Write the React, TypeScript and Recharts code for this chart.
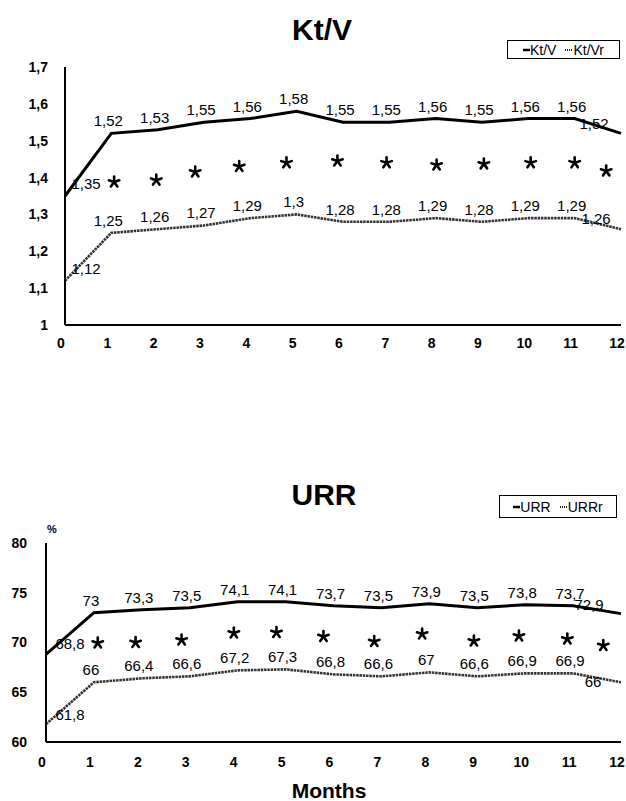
import React from "react";
import {
  ComposedChart,
  Line,
  Scatter,
  XAxis,
  YAxis,
  LabelList,
} from "recharts";

const months = [0, 1, 2, 3, 4, 5, 6, 7, 8, 9, 10, 11, 12];

const ktv = [1.35, 1.52, 1.53, 1.55, 1.56, 1.58, 1.55, 1.55, 1.56, 1.55, 1.56, 1.56, 1.52];
const ktvr = [1.12, 1.25, 1.26, 1.27, 1.29, 1.3, 1.28, 1.28, 1.29, 1.28, 1.29, 1.29, 1.26];
const ktvTicks = [1, 1.1, 1.2, 1.3, 1.4, 1.5, 1.6, 1.7];
const ktvStarMonths = [1.06, 1.97, 2.81, 3.76, 4.78, 5.88, 6.94, 8.02, 9.04, 10.05, 11.0, 11.68];
const ktvStarValues = [1.388, 1.393, 1.415, 1.43, 1.44, 1.445, 1.44, 1.434, 1.437, 1.44, 1.44, 1.418];

const urr = [68.8, 73, 73.3, 73.5, 74.1, 74.1, 73.7, 73.5, 73.9, 73.5, 73.8, 73.7, 72.9];
const urrr = [61.8, 66, 66.4, 66.6, 67.2, 67.3, 66.8, 66.6, 67, 66.6, 66.9, 66.9, 66];
const urrTicks = [60, 65, 70, 75, 80];
const urrStarMonths = [1.08, 1.87, 2.83, 3.92, 4.81, 5.79, 6.85, 7.85, 8.93, 9.87, 10.88, 11.63];
const urrStarValues = [69.95, 70.0, 70.25, 70.95, 71.0, 70.6, 70.1, 70.85, 70.15, 70.65, 70.35, 69.7];

const FONT = "'Liberation Sans', Arial, Helvetica, sans-serif";

const fmt = (v: number) => String(v).replace(".", ",");

const ktvData = months.map((m, i) => ({ month: m, main: ktv[i], reduced: ktvr[i] }));
const urrData = months.map((m, i) => ({ month: m, main: urr[i], reduced: urrr[i] }));
const ktvStars = ktvStarMonths.map((m, i) => ({ month: m, star: ktvStarValues[i] }));
const urrStars = urrStarMonths.map((m, i) => ({ month: m, star: urrStarValues[i] }));

type LabelOpts = { firstDx: number; firstDy: number; lastDx: number; lastDy: number };

function makeLabel(o: LabelOpts) {
  return (props: any) => {
    const { x, y, value, index } = props;
    let dx = -3;
    let dy = -7;
    if (index === 0) {
      dx = o.firstDx;
      dy = o.firstDy;
    } else if (index === months.length - 1) {
      dx = o.lastDx;
      dy = o.lastDy;
    }
    return (
      <text x={x + dx} y={y + dy} textAnchor="middle" fontSize={15} fill="#000" fontFamily={FONT}>
        {fmt(value)}
      </text>
    );
  };
}

// significance marker: a small bold five-armed asterisk
const ARMS = [-90, -18, 54, 126, 198];
const Star = (props: any) => {
  const { cx, cy } = props;
  const r = 5.5;
  return (
    <g>
      {ARMS.map((a) => {
        const t = (a * Math.PI) / 180;
        return (
          <line
            key={a}
            x1={cx}
            y1={cy}
            x2={cx + r * Math.cos(t)}
            y2={cy + r * Math.sin(t)}
            stroke="#000"
            strokeWidth={2.6}
            strokeLinecap="round"
          />
        );
      })}
    </g>
  );
};

// legend drawn as a plain box over the chart, like the scanned original
function LegendBox({ a, b, left, top, width, height }: {
  a: string; b: string; left: number; top: number; width: number; height: number;
}) {
  return (
    <div
      style={{
        position: "absolute",
        left,
        top,
        width,
        height,
        border: "1.5px solid #000",
        display: "flex",
        alignItems: "center",
        justifyContent: "center",
        gap: 9,
        boxSizing: "border-box",
        fontFamily: FONT,
        fontSize: 14,
        color: "#000",
      }}
    >
      <span style={{ display: "flex", alignItems: "center" }}>
        <svg width={7} height={6}>
          <line x1={0} y1={3} x2={7} y2={3} stroke="#000" strokeWidth={2.5} />
        </svg>
        {a}
      </span>
      <span style={{ display: "flex", alignItems: "center" }}>
        <svg width={8} height={6}>
          <line x1={0} y1={3} x2={8} y2={3} stroke="#222" strokeWidth={2} strokeDasharray="1 1" />
        </svg>
        {b}
      </span>
    </div>
  );
}

const tickStyle = { fontSize: 14, fontWeight: "bold", fill: "#000", fontFamily: FONT };

function Panel(props: {
  data: any[];
  stars: any[];
  ticks: number[];
  domain: [number, number];
  height: number;
  marginTop: number;
  yWidth: number;
  xHeight: number;
  yTickMargin: number;
  xTickMargin: number;
  mainLabel: LabelOpts;
  reducedLabel: LabelOpts;
}) {
  return (
    <ComposedChart
      width={626}
      height={props.height}
      data={props.data}
      margin={{ top: props.marginTop, right: 5, left: 0, bottom: 0 }}
    >
      <XAxis
        dataKey="month"
        type="number"
        domain={[0, 12]}
        ticks={months}
        interval={0}
        height={props.xHeight}
        axisLine={{ stroke: "#000", strokeWidth: 2 }}
        tickLine={false}
        tickMargin={props.xTickMargin}
        tick={{ ...tickStyle, dx: -4 }}
      />
      <YAxis
        type="number"
        domain={props.domain}
        ticks={props.ticks}
        interval={0}
        width={props.yWidth}
        axisLine={{ stroke: "#000", strokeWidth: 2 }}
        tickLine={false}
        tickMargin={props.yTickMargin}
        tick={tickStyle}
        tickFormatter={(v: number) => fmt(v)}
        allowDataOverflow
      />
      <Line
        dataKey="reduced"
        stroke="#333"
        strokeWidth={2.6}
        strokeDasharray="2.5 0.8"
        dot={false}
        isAnimationActive={false}
      >
        <LabelList dataKey="reduced" content={makeLabel(props.reducedLabel)} />
      </Line>
      <Line
        dataKey="main"
        stroke="#000"
        strokeWidth={3}
        dot={false}
        isAnimationActive={false}
      >
        <LabelList dataKey="main" content={makeLabel(props.mainLabel)} />
      </Line>
      <Scatter
        data={props.stars}
        dataKey="star"
        shape={Star}
        isAnimationActive={false}
      />
    </ComposedChart>
  );
}

const titleStyle: React.CSSProperties = {
  position: "absolute",
  left: 0,
  textAlign: "center",
  fontFamily: FONT,
  fontWeight: "bold",
  fontSize: 30,
  lineHeight: "30px",
};

export default function App() {
  return (
    <div style={{ position: "absolute", left: 0, top: 0, width: 626, height: 801, background: "#fff" }}>
      <div style={{ ...titleStyle, top: 15, width: 644 }}>Kt/V</div>
      <div style={{ position: "absolute", left: 0, top: 0 }}>
        <Panel
          data={ktvData}
          stars={ktvStars}
          ticks={ktvTicks}
          domain={[1, 1.7]}
          height={360}
          marginTop={67}
          yWidth={65}
          xHeight={35}
          yTickMargin={11}
          xTickMargin={7}
          mainLabel={{ firstDx: 21, firstDy: -7, lastDx: -27, lastDy: -4 }}
          reducedLabel={{ firstDx: 21, firstDy: -7, lastDx: -25, lastDy: -5 }}
        />
      </div>
      <LegendBox a="Kt/V" b="Kt/Vr" left={507} top={40} width={113} height={19} />

      <div style={{ ...titleStyle, top: 480, width: 648 }}>URR</div>
      <div
        style={{
          position: "absolute",
          left: 47,
          top: 523,
          fontFamily: FONT,
          fontSize: 11,
          fontWeight: "bold",
        }}
      >
        %
      </div>
      <div style={{ position: "absolute", left: 0, top: 460 }}>
        <Panel
          data={urrData}
          stars={urrStars}
          ticks={urrTicks}
          domain={[60, 80]}
          height={320}
          marginTop={83}
          yWidth={46}
          xHeight={38}
          yTickMargin={13}
          xTickMargin={9}
          mainLabel={{ firstDx: 24, firstDy: -5, lastDx: -32, lastDy: -4 }}
          reducedLabel={{ firstDx: 24, firstDy: -4, lastDx: -28, lastDy: 5 }}
        />
      </div>
      <LegendBox a="URR" b="URRr" left={499} top={495} width={118} height={23} />
      <div style={{ ...titleStyle, top: 780, width: 658, fontSize: 21, lineHeight: "21px" }}>Months</div>
    </div>
  );
}
